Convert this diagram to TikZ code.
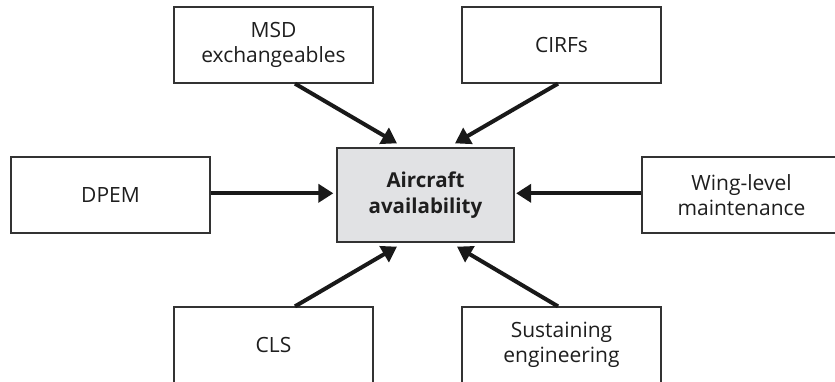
\documentclass[tikz,border=0pt]{standalone}
\usepackage{fontspec}
\setmainfont{Open Sans}
\usetikzlibrary{arrows.meta,calc}
\definecolor{boxline}{HTML}{333333}
\definecolor{centerfill}{HTML}{E1E2E4}
\definecolor{txt}{HTML}{1E1E1E}
\tikzset{
  x=1pt, y=-1pt,
  box/.style={draw=boxline, line width=1.3pt, fill=white, minimum width=199pt, minimum height=76pt,
    inner sep=0pt, align=center, text=txt, font=\fontsize{21}{25.5}\selectfont},
  hub/.style={box, fill=centerfill, minimum width=177pt, minimum height=94pt,
    font=\fontsize{20.5}{25.5}\selectfont\bfseries},
  feed/.style={draw=black!90, line width=4pt, -{Triangle[length=15pt,width=18pt]}}
}
\begin{document}
\begin{tikzpicture}
\useasboundingbox (0,0) rectangle (835,381);
\clip (0,0) rectangle (835,381);
\node[hub] (ac) at (425.5,195) {Aircraft\\availability};
\node[box] (msd) at (273.5,45) {MSD\\exchangeables};
\node[box] (cirf) at (561.5,45) {CIRFs};
\node[box] (dpem) at (110.5,195) {DPEM};
\node[box] (wing) at (741.5,195) {Wing-level\\maintenance};
\node[box] (cls) at (273.5,345) {CLS};
\node[box] (sus) at (561.5,345) {Sustaining\\engineering};
\draw[feed] ($(msd.south)+(21.5,0)$) -- ($(ac.north)+(-28.5,-4)$);
\draw[feed] ($(cirf.south)+(-3.5,0)$) -- ($(ac.north)+(29.5,-4)$);
\draw[feed] ($(cls.north)+(21.5,0)$) -- ($(ac.south)+(-28.5,4)$);
\draw[feed] ($(sus.north)+(-3.5,0)$) -- ($(ac.south)+(31.5,4)$);
\draw[feed] ($(dpem.east)+(0,-1.7)$) -- ($(ac.west)+(-3,-1.7)$);
\draw[feed] ($(wing.west)+(0,-1.7)$) -- ($(ac.east)+(1.5,-1.7)$);
\end{tikzpicture}
\end{document}
